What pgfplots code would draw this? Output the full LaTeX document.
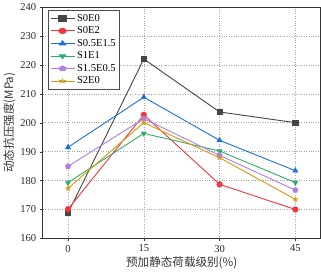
\documentclass[border=0pt]{standalone}
\usepackage{pgfplots}
\pgfplotsset{compat=1.18}
\usepackage{fontspec}
\setmainfont{Liberation Serif}
\newfontfamily\cjk{Noto Sans CJK SC}
\definecolor{c1}{HTML}{464646}
\definecolor{c2}{HTML}{F5343A}
\definecolor{c3}{HTML}{1C6FE3}
\definecolor{c4}{HTML}{2FAE6B}
\definecolor{c5}{HTML}{B07FE6}
\definecolor{c6}{HTML}{D49A10}
\begin{document}
\begin{tikzpicture}
\begin{axis}[
  scale only axis,
  width=276pt, height=230pt,
  xmin=-5, xmax=50, ymin=160, ymax=240,
  xtick={0,15,30,45}, ytick={160,170,...,240},
  tick align=outside, tick pos=left,
  major tick length=3pt,
  grid=major,
  grid style={dotted, gray!70},
  axis line style={black!80, line width=0.8pt},
  tick style={black!80},
  tick label style={font=\fontsize{10.5}{12}\selectfont, text=black!85},
  /pgf/number format/assume math mode=true,
  xlabel={\cjk 预加静态荷载级别(\%)},
  ylabel={\cjk 动态抗压强度(MPa)},
  label style={font=\fontsize{11.5}{13}\selectfont, text=black!80},
  xlabel style={yshift=2pt},
  ylabel style={yshift=-2pt},
  legend style={font=\fontsize{10.5}{12}\selectfont, draw=black!70, at={(0.02,0.985)}, anchor=north west, row sep=0pt, inner sep=1.5pt},
  legend image post style={xscale=1.4},
  legend cell align=left,
  every axis plot/.append style={line width=0.9pt, mark size=2.6pt},
]
\addplot[c1, mark=square*] coordinates {(0,168.8) (15,222.0) (30,203.7) (45,200.0)};
\addlegendentry{S0E0}
\addplot[c2, mark=*] coordinates {(0,170.1) (15,202.7) (30,178.7) (45,170.0)};
\addlegendentry{S0E2}
\addplot[c3, mark=triangle*] coordinates {(0,191.5) (15,208.8) (30,193.9) (45,183.4)};
\addlegendentry{S0.5E1.5}
\addplot[c4, mark=triangle*, mark options={rotate=180}] coordinates {(0,179.3) (15,196.3) (30,190.2) (45,179.3)};
\addlegendentry{S1E1}
\addplot[c5, mark=pentagon*] coordinates {(0,184.9) (15,201.4) (30,188.7) (45,176.7)};
\addlegendentry{S1.5E0.5}
\addplot[c6, mark=star, mark options={line width=1.1pt}] coordinates {(0,177.3) (15,200.0) (30,187.9) (45,173.5)};
\addlegendentry{S2E0}
\end{axis}
\end{tikzpicture}
\end{document}
